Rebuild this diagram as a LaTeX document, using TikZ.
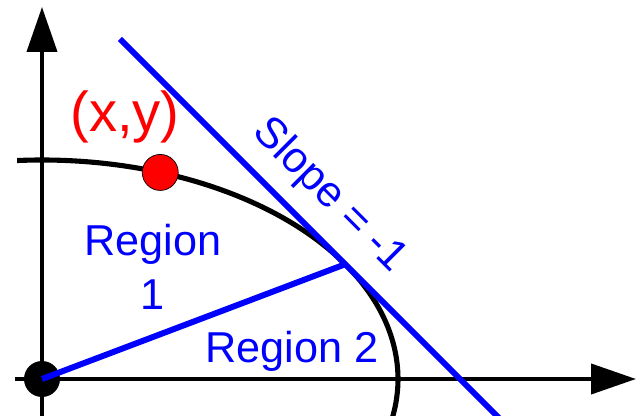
\documentclass[tikz,border=0pt]{standalone}
\usepackage{fontspec}
\setmainfont{Liberation Sans}
\usetikzlibrary{positioning, arrows.meta}

\begin{document}
\begin{tikzpicture}[x=0.02cm, y=0.02cm,
    axis/.style={line width=2.3pt, -{Triangle[length=0.9cm, width=0.6cm]}},
    curve/.style={line width=2.9pt},
    bline/.style={line width=3.4pt, blue},
    dot/.style={circle, inner sep=0pt, minimum size=0.72cm},
    lbl/.style={text=blue, font=\fontsize{24.6}{30.6}\selectfont, align=center, inner sep=0pt}]
    \clip (-42,-37) rectangle (594,379);
    % points
    \coordinate (O) at (0,0);
    \coordinate (xL) at (-27,0); \coordinate (xR) at (594,0);
    \coordinate (yB) at (0,-40); \coordinate (yT) at (0,372);
    \coordinate (T) at (31.6:356 and 219);
    \coordinate (sTop) at (78,340); \coordinate (sEnd) at (470,-52);
    % axes and curve
    \draw[axis] (xL) -- (xR);
    \draw[axis] (yB) -- (yT);
    \draw[curve] (94:356 and 219) arc[start angle=94, end angle=-14, x radius=356, y radius=219];
    \node[dot, fill=black] (org) at (O) {};
    \draw[bline] (sTop) -- (sEnd);
    \draw[bline] (org.center) -- (T);
    \node[dot, fill=red, draw=black, thin] (pt) at (70.6:356 and 219) {};
    % labels
    \node[text=red, font=\fontsize{32}{36}\selectfont] (xy) at (83,262) {(x,y)};
    \node[lbl] (reg1) at (111,112) {Region\\1};
    \node[lbl] (reg2) at (250,28) {Region 2};
    \node[lbl, rotate=-45] (slope) at (287,183) {Slope = -1};
\end{tikzpicture}
\end{document}
